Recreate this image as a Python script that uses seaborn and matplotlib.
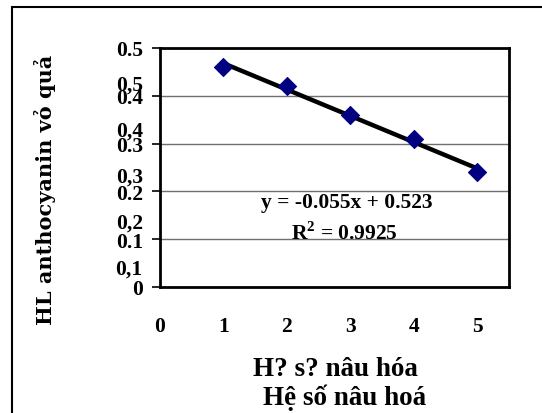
import numpy as np
import pandas as pd
import seaborn as sns
import matplotlib.pyplot as plt
from matplotlib.patches import Rectangle

# browning index vs anthocyanin content of the peel
browning = [1, 2, 3, 4, 5]
anthocyanin = [0.46, 0.42, 0.36, 0.31, 0.24]

y_ticks = [0, 0.1, 0.2, 0.3, 0.4, 0.5]
y_labels = ["0", "0.1", "0.2", "0.3", "0.4", "0.5"]
ghost_labels = ["0,1", "0,2", "0,3", "0,4", "0,5"]
x_ticks = [0, 1, 2, 3, 4, 5]

eq_text = "y = -0.055x + 0.523"
r2_text = "R$^\\mathbf{2}$ = 0.9925"
ylab = "HL anthocyanin vỏ quả"
xlab1 = "H? s? nâu hóa"
xlab2 = "Hệ số nâu hoá"

df = pd.DataFrame({"x": browning, "y": anthocyanin})

sns.set_style("white")
plt.rcParams["font.family"] = ["Liberation Serif", "DejaVu Serif"]
plt.rcParams["mathtext.fontset"] = "custom"
plt.rcParams["mathtext.bf"] = "Liberation Serif:bold"
plt.rcParams["text.color"] = "black"
plt.rcParams["xtick.color"] = "black"
plt.rcParams["ytick.color"] = "black"

fig = plt.figure(figsize=(5.42, 4.14), dpi=100)
ax = fig.add_axes([160 / 542, 1 - 288 / 414, 349 / 542, 239 / 414])

sns.regplot(data=df, x="x", y="y", ax=ax, scatter=False, ci=None, truncate=True,
            line_kws={"color": "black", "lw": 3.2, "zorder": 2})
sns.scatterplot(data=df, x="x", y="y", ax=ax, marker="D", s=85, color="#000080",
                edgecolor="#000080", zorder=3)

ax.set_xlim(0, 5.5)
ax.set_ylim(0, 0.5)
ax.set_yticks(y_ticks)
ax.set_yticklabels(y_labels, fontsize=15.5, fontweight="bold")
ax.set_xticks(x_ticks)
ax.set_xticklabels([str(v) for v in x_ticks], fontsize=15.5, fontweight="bold")
ax.tick_params(axis="y", direction="out", length=6, width=1.2, pad=6, left=True,
               colors="black")
ax.tick_params(axis="x", length=0, pad=21, colors="black")
ax.set_xlabel("")
ax.set_ylabel("")

for yv in y_ticks[1:-1]:
    ax.axhline(yv, color="#707070", lw=1, zorder=1)

for sp in ax.spines.values():
    sp.set_color("black")
    sp.set_linewidth(2)

# second overlapping set of tick labels
for lab, yp in zip(ghost_labels, np.linspace(0.038, 0.424, 5)):
    ax.annotate(lab, xy=(0, yp), xycoords=("axes fraction", "data"),
                xytext=(-12.5, 0), textcoords="offset points",
                ha="right", va="center", fontsize=15.5, fontweight="bold",
                color="black", annotation_clip=False)

ax.text(0.535, 0.356, eq_text, transform=ax.transAxes, ha="center", va="center",
        fontsize=15.5, fontweight="bold", color="black")
ax.text(0.527, 0.23, r2_text, transform=ax.transAxes, ha="center", va="center",
        fontsize=15.5, fontweight="bold", color="black")

fig.text(45 / 542, 1 - 190 / 414, ylab, rotation=90, ha="center", va="center",
         fontsize=15, fontweight="bold", family=["DejaVu Serif"], color="black")
fig.text(335 / 542, 1 - 370 / 414, xlab1, ha="center", va="center",
         fontsize=19.5, fontweight="bold", color="black")
fig.text(345 / 542, 1 - 398 / 414, xlab2, ha="center", va="center",
         fontsize=19.5, fontweight="bold", color="black")

fig.patches.append(Rectangle((12 / 542, -0.1), 1.1, 1.1 - 8 / 414,
                             transform=fig.transFigure, fill=False,
                             edgecolor="black", lw=1.5))

fig.savefig("out.png", dpi=100)
